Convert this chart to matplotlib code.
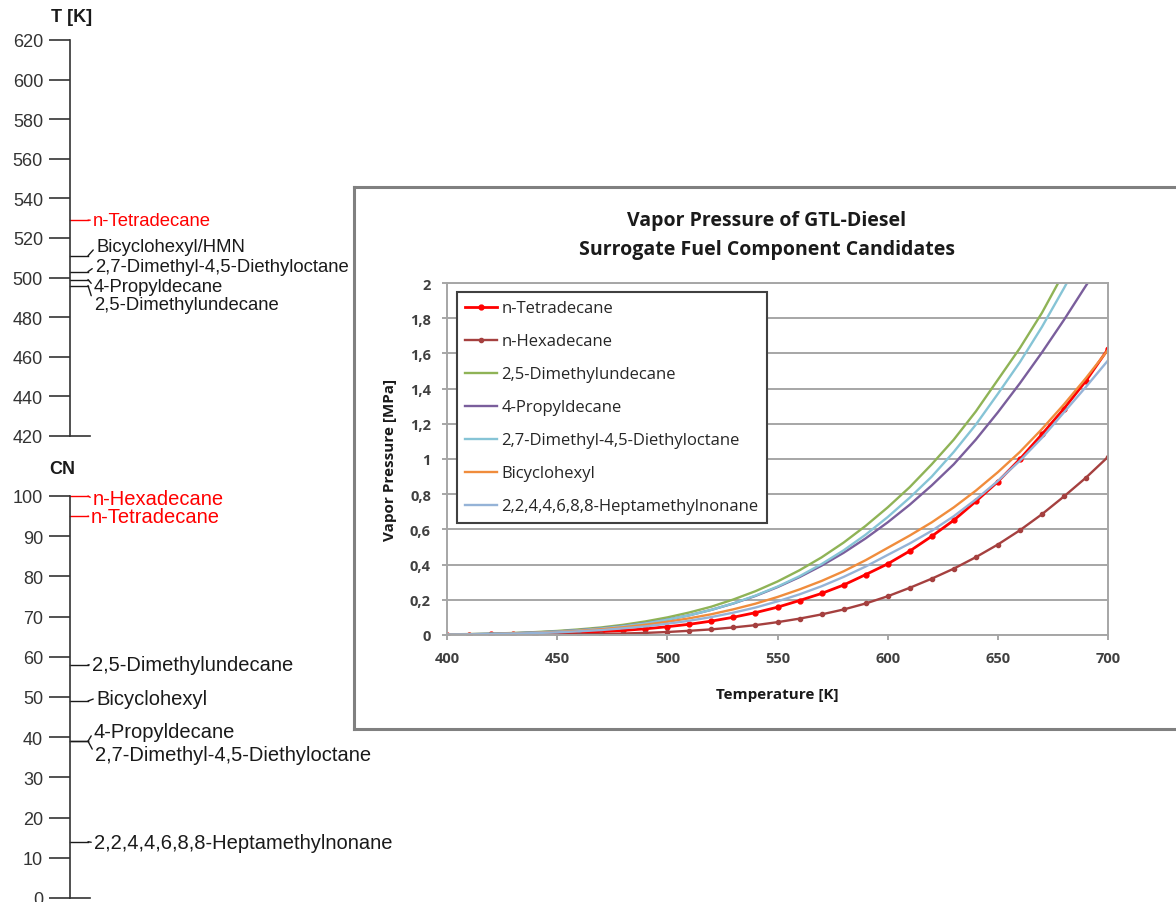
import numpy as np
import matplotlib
matplotlib.use('Agg')
import matplotlib.pyplot as plt
from matplotlib.ticker import FuncFormatter

# --- left scales: boiling temperature and cetane number ---
t_names = ['n-Tetradecane', 'Bicyclohexyl/HMN', '2,7-Dimethyl-4,5-Diethyloctane',
           '4-Propyldecane', '2,5-Dimethylundecane']
t_values = [529, 511, 503, 499, 496]
t_colors = ['#ff0000', '#1a1a1a', '#1a1a1a', '#1a1a1a', '#1a1a1a']

cn_names = ['n-Hexadecane', 'n-Tetradecane', '2,5-Dimethylundecane', 'Bicyclohexyl',
            '4-Propyldecane', '2,7-Dimethyl-4,5-Diethyloctane',
            '2,2,4,4,6,8,8-Heptamethylnonane']
cn_values = [100, 95, 58, 49, 39, 39, 14]
cn_colors = ['#ff0000', '#ff0000'] + ['#1a1a1a'] * 5

# --- vapor pressure [MPa] vs temperature [K] ---
temps = np.arange(400, 701, 10)
p_tetradecane = [0.001, 0.002, 0.003, 0.005, 0.007, 0.010, 0.014, 0.019, 0.026, 0.035,
                 0.047, 0.061, 0.079, 0.101, 0.127, 0.158, 0.196, 0.236, 0.284, 0.343,
                 0.404, 0.477, 0.561, 0.652, 0.759, 0.871, 0.999, 1.140, 1.286, 1.444, 1.625]
p_hexadecane = [0.0002, 0.0004, 0.0006, 0.0010, 0.0016, 0.0025, 0.0039, 0.0058, 0.0085, 0.012,
                0.017, 0.024, 0.032, 0.043, 0.056, 0.073, 0.093, 0.117, 0.145, 0.179,
                0.220, 0.268, 0.320, 0.377, 0.442, 0.514, 0.595, 0.686, 0.787, 0.894, 1.012]
p_dmu = [0.0035, 0.0053, 0.0079, 0.0115, 0.0165, 0.023, 0.032, 0.043, 0.058, 0.077,
         0.100, 0.128, 0.161, 0.202, 0.249, 0.304, 0.368, 0.441, 0.525, 0.620,
         0.725, 0.840, 0.970, 1.110, 1.270, 1.450, 1.630, 1.830, 2.060]
p_propyldecane = [0.0030, 0.0045, 0.0068, 0.0100, 0.0144, 0.020, 0.028, 0.038, 0.051, 0.067,
                  0.087, 0.112, 0.143, 0.179, 0.222, 0.272, 0.329, 0.394, 0.467, 0.549,
                  0.640, 0.740, 0.850, 0.970, 1.110, 1.265, 1.430, 1.605, 1.790, 1.985, 2.170]
p_dmdeo = [0.0027, 0.0042, 0.0064, 0.0095, 0.0137, 0.0195, 0.027, 0.037, 0.050, 0.066,
           0.087, 0.112, 0.143, 0.180, 0.224, 0.275, 0.334, 0.403, 0.481, 0.570,
           0.670, 0.780, 0.900, 1.040, 1.195, 1.370, 1.550, 1.750, 1.970, 2.200]
p_bicyclohexyl = [0.002, 0.003, 0.005, 0.008, 0.012, 0.017, 0.024, 0.033, 0.044, 0.058,
                  0.075, 0.095, 0.118, 0.146, 0.178, 0.216, 0.259, 0.307, 0.362, 0.425,
                  0.495, 0.565, 0.640, 0.725, 0.820, 0.925, 1.040, 1.170, 1.310, 1.460, 1.620]
p_hmn = [0.0024, 0.0036, 0.0053, 0.0077, 0.011, 0.015, 0.021, 0.028, 0.038, 0.049,
         0.064, 0.081, 0.102, 0.127, 0.156, 0.191, 0.231, 0.277, 0.330, 0.389,
         0.455, 0.520, 0.592, 0.675, 0.770, 0.875, 0.990, 1.120, 1.265, 1.410, 1.560]

W, H = 1176, 903
PX = 0.72  # points per pixel at dpi 100
DARK = '#333333'
fig = plt.figure(figsize=(W / 100, H / 100), dpi=100)


def px_axes(x0, y0, x1, y1):
    return fig.add_axes([x0 / W, 1 - y1 / H, (x1 - x0) / W, (y1 - y0) / H])


def scale_axis(y_top, y_bot, lo, hi, step, names, values, colors, offsets, fs):
    ax = px_axes(0, y_top, 400, y_bot)
    ax.set_xlim(0, 400)
    ax.set_ylim(lo, hi)
    ax.patch.set_visible(False)
    for s in ['top', 'right', 'bottom']:
        ax.spines[s].set_visible(False)
    ax.spines['left'].set_position(('data', 70))
    ax.spines['left'].set_color(DARK)
    ax.spines['left'].set_linewidth(1.2)
    ax.set_xticks([])
    ax.set_yticks(np.arange(lo, hi + 1, step))
    ax.tick_params(axis='y', length=21 * PX, width=1.2, color=DARK, pad=6 * PX,
                   labelsize=13, labelcolor=DARK)
    for lab in ax.get_yticklabels():
        lab.set_family('Liberation Sans')
    ax.plot([70, 90], [lo, lo], color=DARK, lw=1.2, clip_on=False)
    for name, v, c, (tx, dy) in zip(names, values, colors, offsets):
        ax.plot([70, 88], [v, v], color=c, lw=1.0, clip_on=False)
        ax.annotate(name, xy=(88, v), xytext=((tx - 88) * PX, dy * PX),
                    textcoords='offset points', ha='left', va='center',
                    fontsize=fs, color=c, family='Liberation Sans',
                    arrowprops=dict(arrowstyle='-', color=c, lw=1.0,
                                    shrinkA=0, shrinkB=0, relpos=(0, 0.5)))
    return ax


# text x position and vertical shift (px, up positive) of each label
t_offsets = [(93, 0), (96, 9), (95, 5), (94, -7), (94, -19)]
cn_offsets = [(93, -3), (91, 0), (92, 0), (96, 3), (94, 10), (95, -13), (94, -1)]

scale_axis(41, 437, 420, 620, 20, t_names, t_values, t_colors, t_offsets, 13.3)
scale_axis(497, 899, 0, 100, 10, cn_names, cn_values, cn_colors, cn_offsets, 14.5)
fig.text(72 / W, 1 - 18 / H, 'T [K]', ha='center', va='center', fontsize=13,
         fontweight='bold', family='Liberation Sans', color='#1a1a1a')
fig.text(62 / W, 1 - 470 / H, 'CN', ha='center', va='center', fontsize=13,
         fontweight='bold', family='Liberation Sans', color='#1a1a1a')

# --- inset chart ---
bg = px_axes(354, 188, 1180, 730)
bg.set_xticks([])
bg.set_yticks([])
for s in bg.spines.values():
    s.set_color('#808080')
    s.set_linewidth(2.2)
bg.text(0.5, (730 - 236) / 542, 'Vapor Pressure of GTL-Diesel\nSurrogate Fuel Component Candidates',
        transform=bg.transAxes, ha='center', va='center', fontsize=14,
        fontweight='bold', family='Open Sans', color='#1a1a1a', linespacing=1.6)

ax = px_axes(447, 284, 1108, 636)
GRID = '#a6a6a6'
ax.set_xlim(400, 700)
ax.set_ylim(0, 2)
ax.set_xticks(np.arange(400, 701, 50))
ax.set_yticks(np.arange(0, 2.01, 0.2))
ax.yaxis.set_major_formatter(FuncFormatter(
    lambda v, p: f'{v:.1f}'.rstrip('0').rstrip('.').replace('.', ',')))
ax.grid(axis='y', color=GRID, lw=1.4)
ax.set_axisbelow(True)
for s in ax.spines.values():
    s.set_color(GRID)
    s.set_linewidth(1.4)
ax.tick_params(length=5 * PX, width=1.4, color=GRID, pad=8, labelsize=10.5, labelcolor='#404040')
for lab in ax.get_xticklabels() + ax.get_yticklabels():
    lab.set_family('Open Sans')
    lab.set_fontweight('bold')

ax.plot(temps, p_tetradecane, color='#ff0000', lw=2.0, marker='o', ms=3.5, label='n-Tetradecane')
ax.plot(temps, p_hexadecane, color='#a5403f', lw=1.7, marker='o', ms=3, label='n-Hexadecane')
ax.plot(temps[:len(p_dmu)], p_dmu, color='#8fb356', lw=1.7, label='2,5-Dimethylundecane')
ax.plot(temps, p_propyldecane, color='#7a5e9c', lw=1.7, label='4-Propyldecane')
ax.plot(temps[:len(p_dmdeo)], p_dmdeo, color='#86c4d6', lw=1.7, label='2,7-Dimethyl-4,5-Diethyloctane')
ax.plot(temps, p_bicyclohexyl, color='#f08c3c', lw=1.7, label='Bicyclohexyl')
ax.plot(temps, p_hmn, color='#95b3d7', lw=1.7, label='2,2,4,4,6,8,8-Heptamethylnonane')

ax.set_xlabel('Temperature [K]', fontsize=11, fontweight='bold', family='Open Sans', color='#1a1a1a')
ax.xaxis.set_label_coords(0.5, (636 - 695) / 352)
ax.xaxis.label.set_va('center')
ax.set_ylabel('Vapor Pressure [MPa]', fontsize=11, fontweight='bold', family='Open Sans', color='#1a1a1a')
ax.yaxis.set_label_coords((390 - 447) / 661, 0.5)
ax.yaxis.label.set_va('center')

leg = ax.legend(loc='upper left', bbox_to_anchor=(457 / W, 1 - 293 / H),
                bbox_transform=fig.transFigure, borderaxespad=0, fancybox=False,
                edgecolor='#404040', framealpha=1, handlelength=1.9, handletextpad=0.25,
                labelspacing=1.02, borderpad=0.5, numpoints=1,
                prop={'family': 'Open Sans', 'size': 12})
leg.get_frame().set_linewidth(1.5)
for t in leg.get_texts():
    t.set_color('#262626')

fig.savefig('out.png', dpi=100)
